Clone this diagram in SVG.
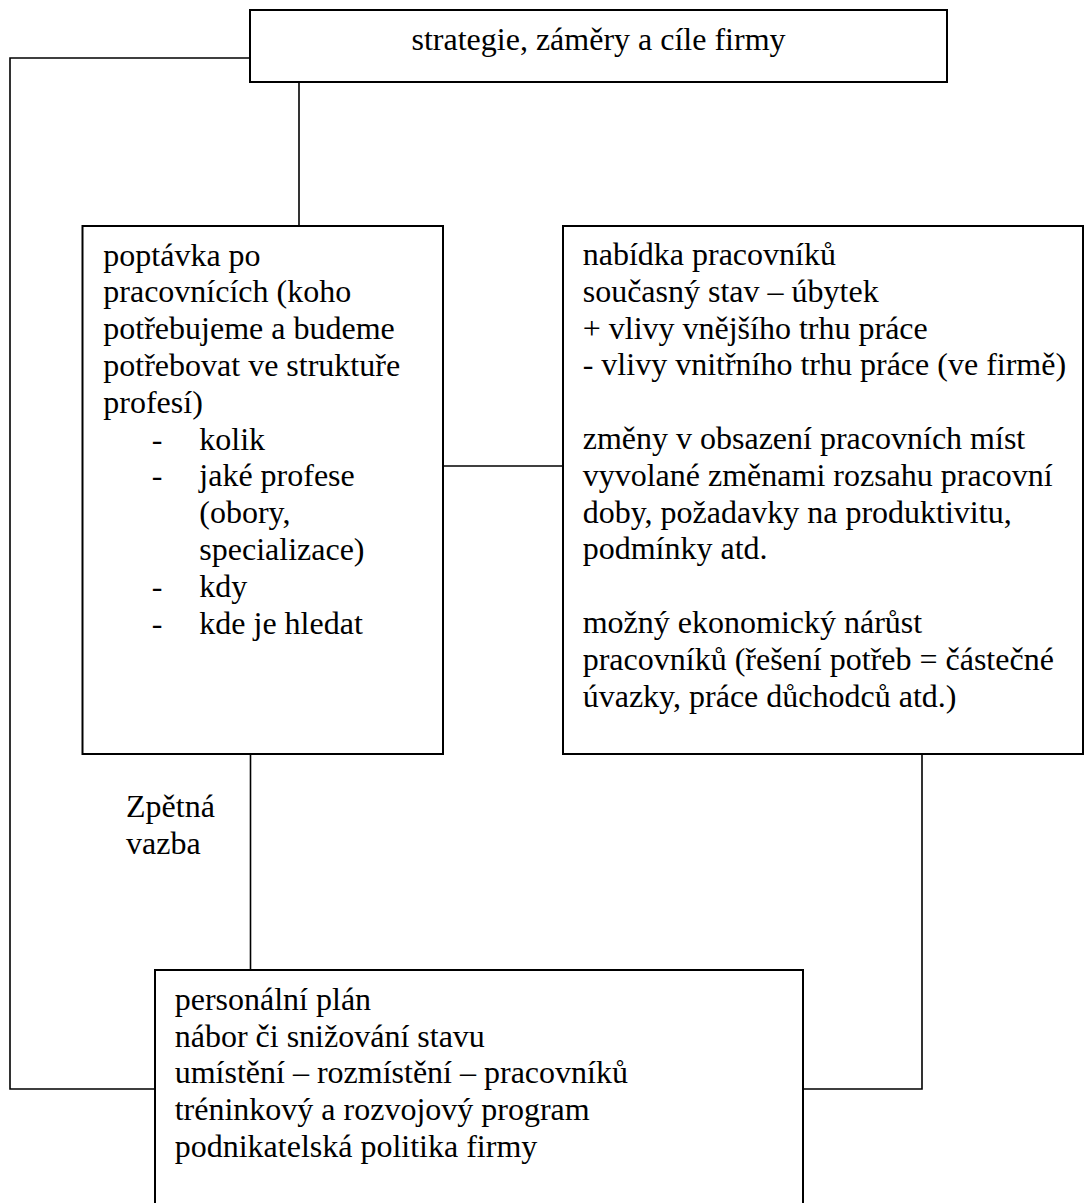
<svg xmlns="http://www.w3.org/2000/svg" width="1085" height="1203" viewBox="0 0 1085 1203">
<style>
.box{fill:#fff;stroke:#000;stroke-width:2}
.con{fill:none;stroke:#000;stroke-width:1.6}
text{font-family:"Liberation Serif","Times New Roman",serif;font-size:32px;fill:#000}
</style>
<rect width="1085" height="1203" fill="#fff"/>
<g id="connectors">
<polyline class="con" points="250,58 10,58 10,1089 155,1089"/>
<line class="con" x1="299" y1="82" x2="299" y2="226"/>
<line class="con" x1="443" y1="466" x2="563" y2="466"/>
<line class="con" x1="250.5" y1="754" x2="250.5" y2="970"/>
<polyline class="con" points="922,754 922,1089 803,1089"/>
</g>
<g id="strategie">
<rect class="box" x="250" y="10" width="697" height="72"/>
<text x="598.5" y="50" text-anchor="middle">strategie, záměry a cíle firmy</text>
</g>
<g id="poptavka">
<rect class="box" x="82.5" y="226" width="360.5" height="528"/>
<text x="103.3" y="265.5">poptávka po</text>
<text x="103.3" y="302.3">pracovnících (koho</text>
<text x="103.3" y="339.1">potřebujeme a budeme</text>
<text x="103.3" y="375.9">potřebovat ve struktuře</text>
<text x="103.3" y="412.7">profesí)</text>
<text x="151.7" y="449.5">-</text><text x="199.3" y="449.5">kolik</text>
<text x="151.7" y="486.3">-</text><text x="199.3" y="486.3">jaké profese</text>
<text x="199.3" y="523.1">(obory,</text>
<text x="199.3" y="559.9">specializace)</text>
<text x="151.7" y="596.7">-</text><text x="199.3" y="596.7">kdy</text>
<text x="151.7" y="633.5">-</text><text x="199.3" y="633.5">kde je hledat</text>
</g>
<g id="nabidka">
<rect class="box" x="563" y="226" width="520" height="528"/>
<text x="582.7" y="265">nabídka pracovníků</text>
<text x="582.7" y="301.8">současný stav – úbytek</text>
<text x="582.7" y="338.6">+ vlivy vnějšího trhu práce</text>
<text x="582.7" y="375.4">- vlivy vnitřního trhu práce (ve firmě)</text>
<text x="582.7" y="449">změny v obsazení pracovních míst</text>
<text x="582.7" y="485.8">vyvolané změnami rozsahu pracovní</text>
<text x="582.7" y="522.6">doby, požadavky na produktivitu,</text>
<text x="582.7" y="559.4">podmínky atd.</text>
<text x="582.7" y="633">možný ekonomický nárůst</text>
<text x="582.7" y="669.8">pracovníků (řešení potřeb = částečné</text>
<text x="582.7" y="706.6">úvazky, práce důchodců atd.)</text>
</g>
<g id="zpetna-vazba">
<text x="126" y="817">Zpětná</text>
<text x="126" y="854">vazba</text>
</g>
<g id="personalni-plan">
<rect class="box" x="155" y="970" width="648" height="250"/>
<text x="174.7" y="1010">personální plán</text>
<text x="174.7" y="1046.7">nábor či snižování stavu</text>
<text x="174.7" y="1083.4">umístění – rozmístění – pracovníků</text>
<text x="174.7" y="1120.1">tréninkový a rozvojový program</text>
<text x="174.7" y="1156.8">podnikatelská politika firmy</text>
</g>
</svg>
